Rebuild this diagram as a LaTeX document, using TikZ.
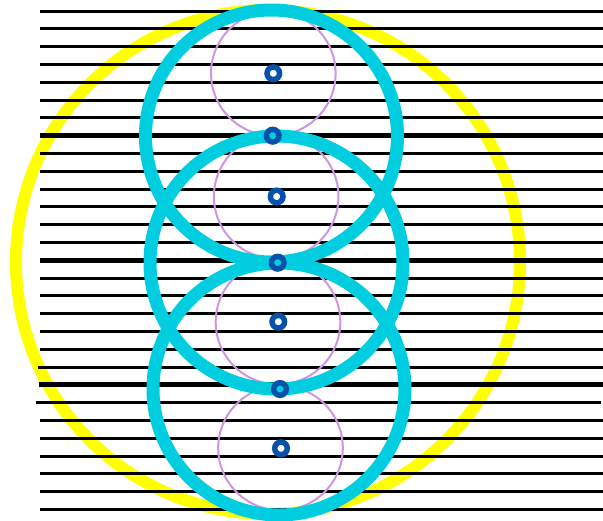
\documentclass[tikz,border=0pt]{standalone}
\definecolor{ringyellow}{RGB}{255,255,0}
\definecolor{ringcyan}{RGB}{0,206,224}
\definecolor{ringpurple}{RGB}{205,150,228}
\definecolor{dotblue}{RGB}{6,82,170}
\tikzset{
  hline/.style={draw=black,line width=3pt},
  hlinethick/.style={draw=black,line width=4.8pt},
  bigring/.style={draw=ringyellow,line width=12pt},
  cyanring/.style={draw=ringcyan,line width=13pt},
  purplering/.style={draw=ringpurple,line width=2pt},
  dotring/.style={draw=dotblue,line width=5.5pt,fill=white}
}
\begin{document}
\begin{tikzpicture}[x=1pt,y=-1pt]
\useasboundingbox (0,0) rectangle (603,520);
% yellow ring
\draw[bigring] (268,262) circle[radius=252];
% horizontal lines
\foreach \i in {0,...,28}{
  \pgfmathsetmacro{\yy}{11+17.8*\i}
  \ifnum\i=7 \draw[hlinethick] (40,\yy) -- (603,\yy);
  \else\ifnum\i=14 \draw[hlinethick] (40,\yy) -- (603,\yy);
  \else\ifnum\i=21 \draw[hlinethick] (39,\yy) -- (604,\yy);
  \else\ifnum\i=20 \draw[hline] (37.5,\yy) -- (603,\yy);
  \else\ifnum\i=22 \draw[hline] (36,\yy) -- (600.5,\yy);
  \else \draw[hline] (40,\yy) -- (603,\yy);
  \fi\fi\fi\fi\fi
}
% purple circles
\draw[purplering] (273.3,73.3) circle[radius=62.3];
\draw[purplering] (276.2,196.5) circle[radius=62.3];
\draw[purplering] (278,322) circle[radius=62.3];
\draw[purplering] (280.5,448) circle[radius=62.3];
% cyan circles
\draw[cyanring] (271.5,136) circle[radius=126];
\draw[cyanring] (276.5,262.5) circle[radius=126.5];
\draw[cyanring] (279,389) circle[radius=126];
% blue dots
\node[circle,dotring,minimum size=12.6pt,inner sep=0pt] (d1) at (273.3,73.3) {};
\node[circle,dotring,minimum size=12.6pt,inner sep=0pt,fill=ringcyan] (d2) at (272.7,135.7) {};
\node[circle,dotring,minimum size=12.6pt,inner sep=0pt] (d3) at (276.7,196.5) {};
\node[circle,dotring,minimum size=12.6pt,inner sep=0pt,fill=ringcyan] (d4) at (277.7,262.7) {};
\node[circle,dotring,minimum size=12.6pt,inner sep=0pt] (d5) at (278.3,321.7) {};
\node[circle,dotring,minimum size=12.6pt,inner sep=0pt,fill=ringcyan] (d6) at (280,389) {};
\node[circle,dotring,minimum size=12.6pt,inner sep=0pt] (d7) at (281,448.3) {};
\end{tikzpicture}
\end{document}
